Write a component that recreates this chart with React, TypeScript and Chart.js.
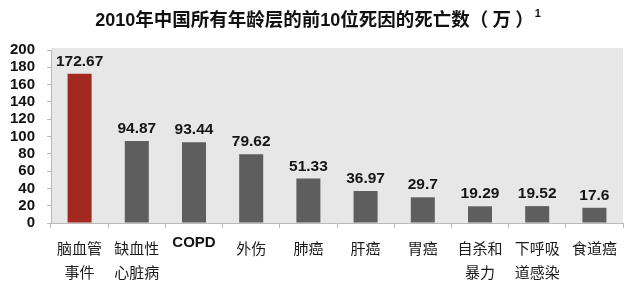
import React, { useEffect, useRef } from "react";
import { Chart, registerables } from "chart.js";

Chart.register(...registerables);

const categories: string[][] = [
  ["脑血管", "事件"],
  ["缺血性", "心脏病"],
  ["COPD"],
  ["外伤"],
  ["肺癌"],
  ["肝癌"],
  ["胃癌"],
  ["自杀和", "暴力"],
  ["下呼吸", "道感染"],
  ["食道癌"],
];
const deaths: number[] = [172.67, 94.87, 93.44, 79.62, 51.33, 36.97, 29.7, 19.29, 19.52, 17.6];
const yMin = 0;
const yMax = 200;
const yStep = 20;
const titleParts: { text: string; latin: boolean }[] = [
  { text: "2010", latin: true },
  { text: "年中国所有年龄层的前", latin: false },
  { text: "10", latin: true },
  { text: "位死因的死亡数（ 万 ）", latin: false },
];
const titleNote = "1";

const LATIN = "'Liberation Sans', Arial, sans-serif";
const CJK = "'Noto Sans CJK SC', sans-serif";
const RED = "#a3281f";
const GRAY = "#5e5e5e";
const PLOT_BG = "#e7e7e7";
const AXIS = "#b9b9b9";

const isLatin = (s: string) => /^[\x00-\x7F]+$/.test(s);

const plotBgPlugin = {
  id: "plotBg",
  beforeDraw(chart: any) {
    const { ctx, chartArea } = chart;
    ctx.save();
    ctx.fillStyle = PLOT_BG;
    ctx.fillRect(chartArea.left, chartArea.top - 2, chartArea.right - chartArea.left, chartArea.bottom - chartArea.top + 2);
    ctx.restore();
  },
};

const textPlugin = {
  id: "texts",
  afterDatasetsDraw(chart: any) {
    const { ctx, chartArea } = chart;
    const meta = chart.getDatasetMeta(0);
    ctx.save();
    // value labels
    ctx.fillStyle = "#151515";
    ctx.textAlign = "center";
    ctx.textBaseline = "alphabetic";
    ctx.font = `bold 15.5px ${LATIN}`;
    meta.data.forEach((bar: any, i: number) => {
      ctx.fillText(String(deaths[i]), bar.x, bar.y - 8);
    });
    // category labels
    meta.data.forEach((bar: any, i: number) => {
      const lines = categories[i];
      lines.forEach((line, j) => {
        if (isLatin(line)) {
          ctx.font = `bold 15px ${LATIN}`;
          ctx.textBaseline = "middle";
          ctx.fillStyle = "#111";
          ctx.fillText(line, bar.x, chartArea.bottom + 20 + j * 24);
        } else {
          ctx.font = `15px ${CJK}`;
          ctx.textBaseline = "middle";
          ctx.fillStyle = "#1a1a1a";
          ctx.fillText(line, bar.x, chartArea.bottom + 25 + j * 24);
        }
      });
    });
    // title
    const fontFor = (latin: boolean) => (latin ? `bold 18px ${LATIN}` : `bold 18.5px ${CJK}`);
    let total = 0;
    const widths = titleParts.map((p) => {
      ctx.font = fontFor(p.latin);
      const w = ctx.measureText(p.text).width;
      total += w;
      return w;
    });
    ctx.font = `bold 11px ${LATIN}`;
    const noteW = ctx.measureText(titleNote).width + 2;
    total += noteW;
    let x = (chart.width - total) / 2;
    ctx.textAlign = "left";
    ctx.textBaseline = "alphabetic";
    ctx.fillStyle = "#111";
    titleParts.forEach((p, i) => {
      ctx.font = fontFor(p.latin);
      ctx.fillText(p.text, x, 26);
      x += widths[i];
    });
    ctx.font = `bold 11px ${LATIN}`;
    ctx.fillText(titleNote, x + 1, 17);
    ctx.restore();
  },
};

export default function App() {
  const canvasRef = useRef<HTMLCanvasElement | null>(null);

  useEffect(() => {
    document.body.style.margin = "0";
    const canvas = canvasRef.current;
    if (!canvas) return;
    const chart = new Chart(canvas, {
      type: "bar",
      data: {
        labels: categories.map((c) => c.join("")),
        datasets: [
          {
            data: deaths,
            backgroundColor: deaths.map((_, i) => (i === 0 ? RED : GRAY)),
            borderWidth: 0,
            barPercentage: 0.42,
            categoryPercentage: 1,
          },
        ],
      },
      options: {
        animation: false,
        responsive: true,
        maintainAspectRatio: false,
        layout: { padding: { top: 50, right: 14, left: 0, bottom: 0 } },
        plugins: {
          legend: { display: false },
          tooltip: { enabled: false },
          title: { display: false },
        },
        scales: {
          x: {
            ticks: { display: false },
            grid: { drawOnChartArea: false, drawTicks: true, tickLength: 5, color: AXIS },
            border: { color: AXIS },
            afterFit: (s: any) => {
              s.height = 73;
            },
          },
          y: {
            min: yMin,
            max: yMax,
            ticks: {
              stepSize: yStep,
              autoSkip: false,
              padding: 12,
              color: "#111",
              font: { family: LATIN, size: 15, weight: "bold" },
            },
            grid: { drawOnChartArea: false, drawTicks: true, tickLength: 4, color: AXIS },
            border: { color: AXIS },
            afterFit: (s: any) => {
              s.width = 51;
            },
          },
        },
      },
      plugins: [plotBgPlugin, textPlugin],
    });
    return () => chart.destroy();
  }, []);

  return (
    <div style={{ position: "relative", width: 637, height: 296 }}>
      <canvas ref={canvasRef} />
    </div>
  );
}
